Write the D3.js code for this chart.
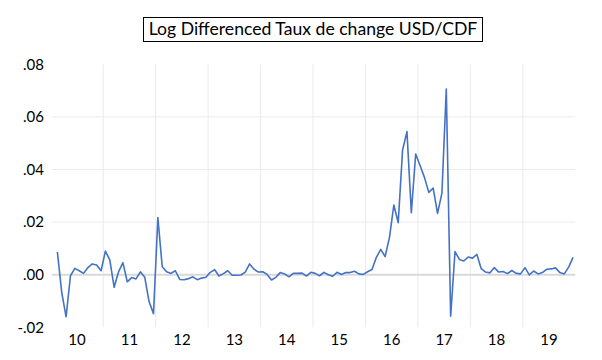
<!DOCTYPE html>
<html>
<head>
<meta charset="utf-8">
<script src="https://cdn.jsdelivr.net/npm/d3@7"></script>
<style>
  html, body { margin: 0; padding: 0; background: #fff; }
  svg { display: block; }
</style>
</head>
<body>
<svg id="chart" width="602" height="360"></svg>
<script>
const title = "Log Differenced Taux de change USD/CDF";
const yearLabels = ["10", "11", "12", "13", "14", "15", "16", "17", "18", "19"];
const yTicks = [-0.02, 0.00, 0.02, 0.04, 0.06, 0.08];
const firstMonthIndex = 1; // 2010M02
const values = [
  0.0087, -0.0067, -0.0160, -0.0004, 0.0024, 0.0015, 0.0005, 0.0027, 0.0041, 0.0037, 0.0015,
  0.0090, 0.0056, -0.0048, 0.0011, 0.0046, -0.0027, -0.0011, -0.0016, 0.0011, -0.0010, -0.0103, -0.0148,
  0.0217, 0.0030, 0.0011, 0.0005, 0.0015, -0.0018, -0.0019, -0.0015, -0.0008, -0.0019, -0.0013, -0.0010,
  0.0009, 0.0019, -0.0005, 0.0004, 0.0015, -0.0002, -0.0002, -0.0001, 0.0010, 0.0041, 0.0021, 0.0010,
  0.0011, 0.0001, -0.0020, -0.0010, 0.0008, 0.0003, -0.0008, 0.0005, 0.0005, 0.0006, -0.0005, 0.0009,
  0.0005, -0.0004, 0.0009, 0.0000, -0.0006, 0.0009, 0.0001, 0.0008, 0.0008, 0.0013, 0.0003, 0.0001,
  0.0011, 0.0020, 0.0066, 0.0096, 0.0069, 0.0142, 0.0265, 0.0198, 0.0474, 0.0544, 0.0236, 0.0459,
  0.0415, 0.0370, 0.0313, 0.0329, 0.0233, 0.0310, 0.0706, -0.0158, 0.0088, 0.0058, 0.0052, 0.0067,
  0.0063, 0.0077, 0.0023, 0.0010, 0.0007, 0.0027, 0.0010, 0.0012, 0.0004, 0.0016, 0.0005, 0.0003,
  0.0027, -0.0001, 0.0014, 0.0003, 0.0008, 0.0021, 0.0022, 0.0026, 0.0008, 0.0003, 0.0029, 0.0066
];

const font = "Lato, 'Open Sans', sans-serif";
const svg = d3.select("#chart");

const x = d3.scaleLinear().domain([0, yearLabels.length * 12]).range([50.8, 575.2]);
const y = d3.scaleLinear().domain([-0.02, 0.08]).range([327.3, 64.3]);

// vertical year gridlines
const yearBounds = d3.range(1, yearLabels.length);
svg.append("g").selectAll("line").data(yearBounds).join("line")
  .attr("x1", d => x(d * 12)).attr("x2", d => x(d * 12))
  .attr("y1", y(0.08)).attr("y2", y(-0.02))
  .attr("stroke", "#ebebeb").attr("stroke-width", 1);

// horizontal gridlines
svg.append("g").selectAll("line").data(yTicks.filter(t => t > -0.02 && t < 0.08)).join("line")
  .attr("x1", x(0) + 1).attr("x2", x(yearLabels.length * 12))
  .attr("y1", d => y(d)).attr("y2", d => y(d))
  .attr("stroke", d => d === 0 ? "#d9d9d9" : "#ebebeb")
  .attr("stroke-width", d => d === 0 ? 2 : 1);

// y axis labels
const fmt = v => {
  const s = Math.abs(v).toFixed(2).replace(/^0\./, ".");
  return (v < 0 ? "-" : "") + s;
};
const yAxis = d3.axisLeft(y).tickValues(yTicks).tickSize(0).tickPadding(0).tickFormat(fmt);
const gy = svg.append("g").attr("transform", "translate(44,0)").call(yAxis);
gy.select(".domain").remove();
gy.selectAll("text").attr("font-family", font).attr("font-size", 15).attr("fill", "#000");

// x labels (centered in each year)
svg.append("g").selectAll("text").data(yearLabels).join("text")
  .attr("x", (d, i) => x(i * 12 + 6))
  .attr("y", 345)
  .attr("text-anchor", "middle")
  .attr("font-family", font).attr("font-size", 15).attr("fill", "#000")
  .text(d => d);

// line
const line = d3.line()
  .x((d, i) => x(firstMonthIndex + i + 0.5))
  .y(d => y(d));
svg.append("path").datum(values)
  .attr("d", line)
  .attr("fill", "none")
  .attr("stroke", "#4472c4")
  .attr("stroke-width", 1.6)
  .attr("stroke-linejoin", "round");

// title with box
const tg = svg.append("g");
tg.append("rect")
  .attr("x", 143.5).attr("y", 17.5).attr("width", 339).attr("height", 24)
  .attr("fill", "#fff").attr("stroke", "#000").attr("stroke-width", 1);
tg.append("text")
  .attr("x", 313).attr("y", 35)
  .attr("text-anchor", "middle")
  .attr("font-family", font).attr("font-size", 17.6).attr("fill", "#000")
  .text(title);
</script>
</body>
</html>
